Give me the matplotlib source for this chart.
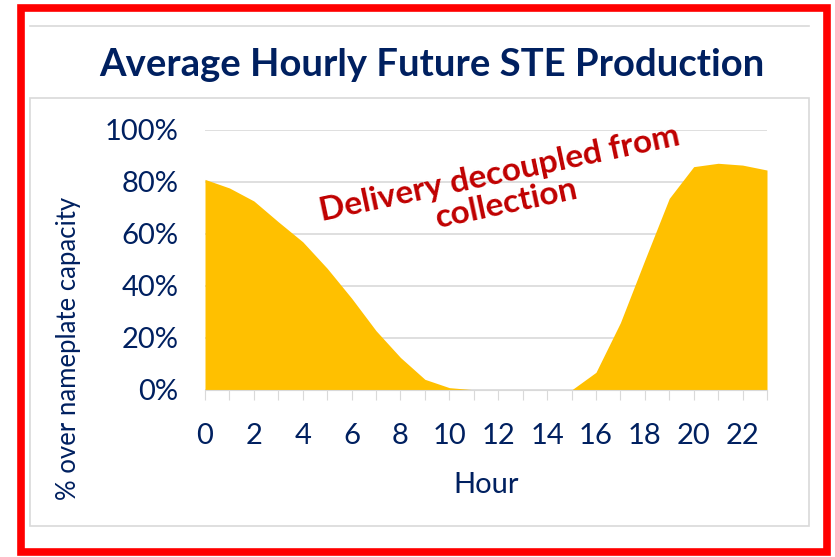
import matplotlib.pyplot as plt
from matplotlib.patches import Rectangle
from matplotlib.lines import Line2D

plt.rcParams['font.family'] = ['Lato', 'DejaVu Sans']

hours = list(range(24))
production = [81, 77.7, 72.7, 64.7, 57, 46.8, 35.3, 22.8, 12.5, 4.1, 0.9, 0.1,
              0, 0, 0, 0, 6.8, 25.9, 50, 73.7, 85.9, 87.2, 86.5, 84.6]
xtick_labels = [str(h) if h % 2 == 0 else "" for h in hours]
yticks = [0, 20, 40, 60, 80, 100]

navy = "#002060"
fig = plt.figure(figsize=(8.35, 5.57), dpi=100)

# outer red frame and inner gray chart border
fig.patches.append(Rectangle((21 / 835, 1 - 552 / 557), 806 / 835, 544 / 557,
                             transform=fig.transFigure, fill=False,
                             edgecolor="#FF0000", linewidth=5.5))
fig.lines.append(Line2D([30 / 835, 809 / 835], [1 - 26 / 557, 1 - 26 / 557],
                        transform=fig.transFigure, color="#D9D9D9", lw=1.2))
fig.patches.append(Rectangle((30 / 835, 1 - 526 / 557), 779 / 835, 428 / 557,
                             transform=fig.transFigure, fill=False,
                             edgecolor="#D9D9D9", linewidth=1.2))

ax = fig.add_axes([205 / 835, 1 - 390 / 557, 562 / 835, 260 / 557])
ax.fill_between(hours, production, 0, color="#FFC000", linewidth=0)
ax.set_xlim(0, 23)
ax.set_ylim(0, 100)
ax.set_yticks(yticks)
ax.set_yticklabels([f"{v}%" for v in yticks])
ax.set_xticks(hours)
ax.set_xticklabels(xtick_labels)
ax.grid(axis="y", color="#D9D9D9", linewidth=1.2)
ax.set_axisbelow(True)
for s in ["top", "right", "left"]:
    ax.spines[s].set_visible(False)
ax.spines["bottom"].set_color("#D9D9D9")
ax.tick_params(axis="y", length=0, labelsize=21, labelcolor=navy, pad=19)
ax.tick_params(axis="x", length=7, color="#D9D9D9", labelsize=21,
               labelcolor=navy, pad=17)
ax.set_xlabel("Hour", fontsize=21, color=navy)
ax.xaxis.set_label_coords(0.5, -0.315)
ax.set_ylabel("% over nameplate capacity", fontsize=18.5, color=navy,
              va="center")
ax.yaxis.set_label_coords(-0.243, 0.16)

fig.text(432 / 835, 1 - 65 / 557, "Average Hourly Future STE Production",
         ha="center", va="center", fontsize=27.5, fontweight="bold", color=navy)

ax.text(12.2, 77.5, "Delivery decoupled from\ncollection", ha="center",
        va="center", rotation=12, rotation_mode="anchor", fontsize=24,
        fontweight="bold", color="#C00000", linespacing=1.1)

fig.savefig("out.png", dpi=100)
